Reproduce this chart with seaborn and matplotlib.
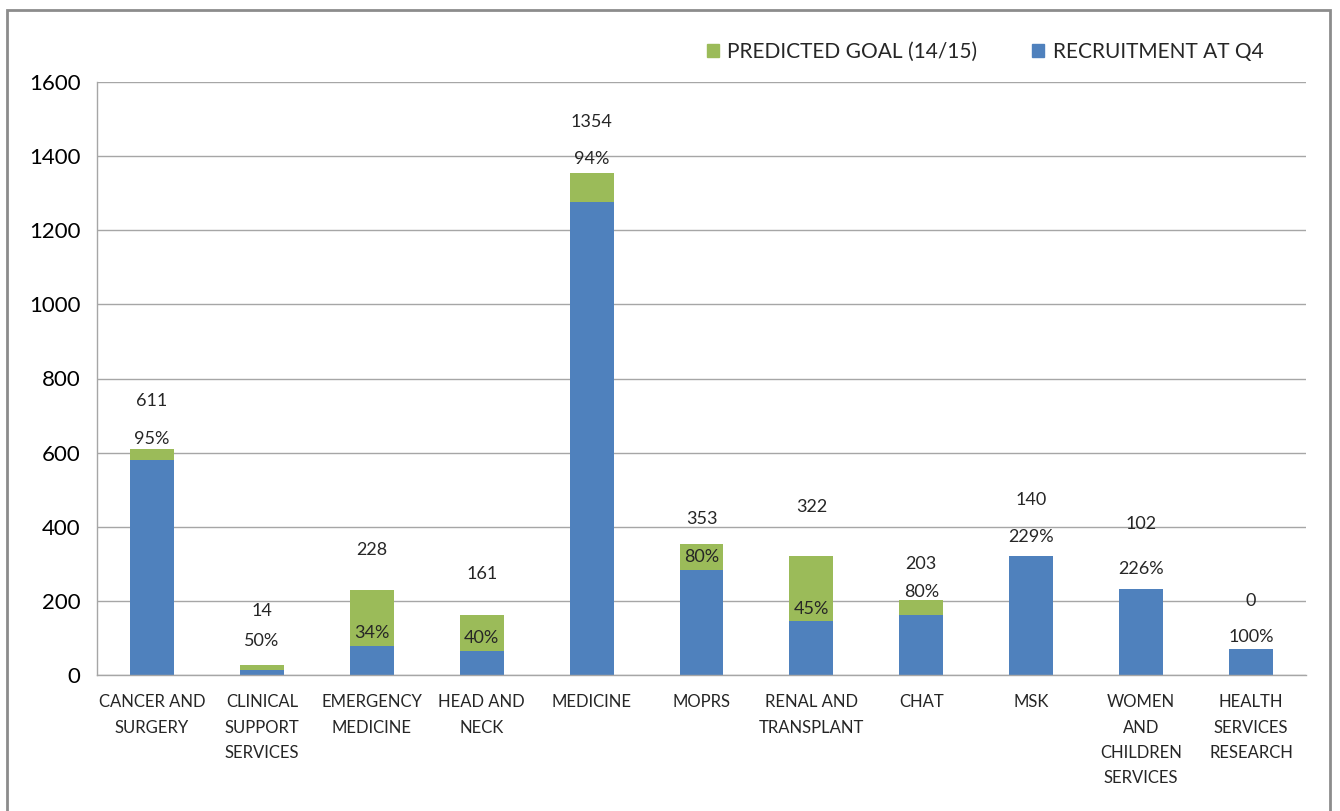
import numpy as np
import pandas as pd
import matplotlib
matplotlib.use("Agg")
import matplotlib.pyplot as plt
from matplotlib.patches import Patch, Rectangle
import seaborn as sns

sns.set_style("white")
plt.rcParams['font.family'] = ['Lato', 'DejaVu Sans']

# ---------------------------------------------------------------
# data
# ---------------------------------------------------------------
categories = ["CANCER AND\nSURGERY", "CLINICAL\nSUPPORT\nSERVICES", "EMERGENCY\nMEDICINE",
              "HEAD AND\nNECK", "MEDICINE", "MOPRS", "RENAL AND\nTRANSPLANT", "CHAT", "MSK",
              "WOMEN\nAND\nCHILDREN\nSERVICES", "HEALTH\nSERVICES\nRESEARCH"]
goal = [611, 28, 228, 161, 1354, 353, 322, 203, 140, 102, 0]
recruitment = [580, 14, 78, 64, 1275, 283, 145, 162, 321, 231, 71]
goal_labels = ["611", "14", "228", "161", "1354", "353", "322", "203", "140", "102", "0"]
pct_labels = ["95%", "50%", "34%", "40%", "94%", "80%", "45%", "80%", "229%", "226%", "100%"]

# label placement (data units, as laid out in the original)
goal_lbl_y = [738, 172, 338, 272, 1492, 422, 454, 300, 471, 408, 200]
pct_lbl_y = [636, 92, 112, 100, 1393, 318, 178, 224, 372, 285, 103]

GREEN = "#9BBB59"
BLUE = "#4F81BD"
GRID = "#A6A6A6"
TXT = "#262626"

df = pd.DataFrame({"cat": categories, "goal": goal, "rec": recruitment})

fig = plt.figure(figsize=(13.4, 8.11), dpi=100)
ax = fig.add_axes([97/1340, 1 - 675/811, (1306 - 97)/1340, (675 - 82)/811])

sns.barplot(data=df, x="cat", y="goal", color=GREEN, saturation=1, width=0.4, linewidth=0, ax=ax)
sns.barplot(data=df, x="cat", y="rec", color=BLUE, saturation=1, width=0.4, linewidth=0, ax=ax)

for i in range(len(categories)):
    ax.text(i, goal_lbl_y[i], goal_labels[i], ha='center', va='center', fontsize=13, color=TXT)
    ax.text(i, pct_lbl_y[i], pct_labels[i], ha='center', va='center', fontsize=13, color=TXT)

ax.set_ylim(0, 1600)
ax.set_xlim(-0.5, len(categories) - 0.5)
ax.set_yticks(np.arange(0, 1601, 200))
ax.yaxis.grid(True, color=GRID, lw=1)
ax.set_axisbelow(True)
ax.set_xlabel("")
ax.set_ylabel("")

for s in ['top', 'right']:
    ax.spines[s].set_visible(False)
for s in ['left', 'bottom']:
    ax.spines[s].set_color(GRID)
    ax.spines[s].set_linewidth(1)

ax.tick_params(axis='y', length=6, color=GRID, labelsize=16, pad=6, labelcolor='black')
ax.tick_params(axis='x', which='major', length=0, labelsize=12, pad=14, labelcolor=TXT)
ax.set_xticks(np.arange(-0.5, len(categories), 1), minor=True)
ax.tick_params(axis='x', which='minor', length=7, color=GRID)
for t in ax.get_xticklabels():
    t.set_linespacing(1.7)
    t.set_va('top')

handles = [Patch(color=GREEN, label="PREDICTED GOAL (14/15)"),
           Patch(color=BLUE, label="RECRUITMENT AT Q4")]
fig.legend(handles=handles, loc='center', bbox_to_anchor=(985/1340, 1 - 52/811), ncol=2,
           frameon=False, fontsize=15, handlelength=0.6, handleheight=0.6,
           handletextpad=0.4, columnspacing=2.6)

# chart frame
fig.patches.append(Rectangle((7/1340, -0.05), (1330 - 7)/1340, 1.05 - 10/811,
                             transform=fig.transFigure, fill=False, edgecolor="#8C8C8C", lw=2))

fig.savefig("out.png", dpi=100)
